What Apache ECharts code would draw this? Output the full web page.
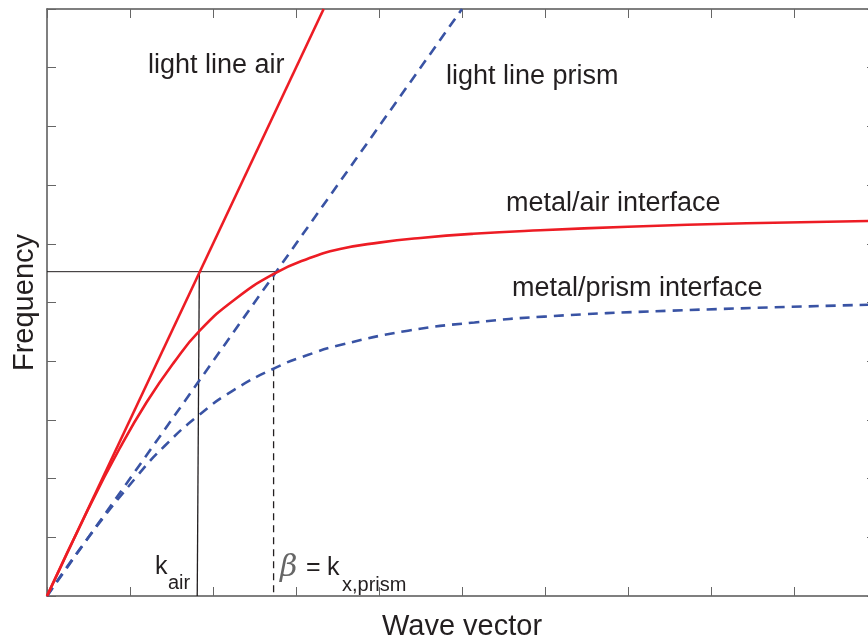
<!DOCTYPE html>
<html>
<head>
<meta charset="utf-8">
<script src="https://cdn.jsdelivr.net/npm/echarts@6/dist/echarts.min.js"></script>
<style>
  html, body { margin: 0; padding: 0; background: #ffffff; }
  #chart { width: 868px; height: 637px; }
</style>
</head>
<body>
<div id="chart"></div>
<script>
// Dispersion relations: wave vector (x) vs frequency (y), arbitrary units
const lightLineAir   = [[0, 0], [3.333, 10]];
const lightLinePrism = [[0, 0], [5.0, 10]];
const metalAir = [
  [0, 0], [0.5, 1.49], [0.87, 2.5], [1.2, 3.3], [1.53, 3.98], [1.84, 4.52],
  [2.27, 5.06], [2.75, 5.5], [3.15, 5.75], [3.53, 5.91], [4.0, 6.02],
  [4.5, 6.1], [5.13, 6.17], [5.94, 6.23], [7.0, 6.29], [8.43, 6.35], [10.0, 6.39]
];
const metalPrism = [
  [0, 0], [0.5, 1.0], [1.09, 2.05], [1.42, 2.56], [1.82, 3.07], [2.24, 3.5],
  [2.77, 3.9], [3.13, 4.1], [3.52, 4.27], [4.35, 4.52], [5.15, 4.66],
  [5.99, 4.76], [7.5, 4.86], [10.0, 4.965]
];
// Construction lines at the coupling frequency
const couplingLine = [[0, 5.525], [2.76, 5.525]];
const kAirLine     = [[1.835, 5.525], [1.81, 0]];
const betaLine     = [[2.73, 5.5], [2.73, 0]];

const RED = '#ed1c24';
const BLUE = '#3953a4';
const INK = '#231f20';
const FONT = '"Liberation Sans", Arial, sans-serif';

const chart = echarts.init(document.getElementById('chart'), null, { renderer: 'canvas' });

const axisCommon = {
  type: 'value', min: 0, max: 10, interval: 1,
  axisLine: { show: true, onZero: false, lineStyle: { color: '#555555', width: 1.5 } },
  axisTick: { show: true, inside: true, length: 9, lineStyle: { color: '#666666', width: 1 } },
  axisLabel: { show: false },
  splitLine: { show: false }
};

function lineSeries(name, data, color, width, type, smooth) {
  return {
    name, type: 'line', data, symbol: 'none', smooth: smooth || false,
    lineStyle: { color, width, type: type || 'solid', cap: 'butt' },
    silent: true
  };
}

function txt(text, x, y, size, opts) {
  opts = opts || {};
  return {
    type: 'text', x, y, silent: true,
    style: {
      text, fill: opts.fill || INK,
      font: (opts.italic ? 'italic ' : '') + size + 'px ' + (opts.family || FONT),
      verticalAlign: 'middle', align: 'left'
    }
  };
}

chart.setOption({
  animation: false,
  backgroundColor: '#ffffff',
  grid: { left: 47, top: 9, width: 830, height: 587, containLabel: false, outerBoundsMode: 'none' },
  xAxis: [
    Object.assign({}, axisCommon, {
      position: 'bottom',
      name: 'Wave vector', nameLocation: 'middle', nameGap: 16,
      nameTextStyle: { fontFamily: FONT, fontSize: 29, color: INK, verticalAlign: 'top' }
    }),
    Object.assign({}, axisCommon, { position: 'top' })
  ],
  yAxis: [
    Object.assign({}, axisCommon, {
      position: 'left',
      name: 'Frequency', nameLocation: 'middle', nameGap: 8,
      nameTextStyle: { fontFamily: FONT, fontSize: 29, color: INK, verticalAlign: 'bottom' }
    }),
    Object.assign({}, axisCommon, {
      position: 'right',
      axisTick: { show: true, inside: true, length: 10, lineStyle: { color: '#666666', width: 1 } }
    })
  ],
  series: [
    lineSeries('coupling', couplingLine, INK, 1),
    lineSeries('k_air', kAirLine, INK, 1.3),
    lineSeries('beta', betaLine, INK, 1.3, [7, 5]),
    lineSeries('light line prism', lightLinePrism, BLUE, 2.6, [10, 7]),
    lineSeries('metal/prism interface', metalPrism, BLUE, 2.6, [10, 7], 0.5),
    lineSeries('light line air', lightLineAir, RED, 2.6),
    lineSeries('metal/air interface', metalAir, RED, 2.6, 'solid', 0.5)
  ],
  graphic: [
    txt('light line air', 148, 66, 27),
    txt('light line prism', 446, 77, 27),
    txt('metal/air interface', 506, 204, 27),
    txt('metal/prism interface', 512, 289, 27),
    txt('k', 155, 567, 25),
    txt('air', 168, 583, 20),
    txt('\u03B2', 280, 568, 30, { italic: true, family: '"DejaVu Serif", serif', fill: '#666666' }),
    txt('=', 306, 568, 25),
    txt('k', 327, 568, 25),
    txt('x,prism', 342, 585, 20)
  ]
});
</script>
</body>
</html>
